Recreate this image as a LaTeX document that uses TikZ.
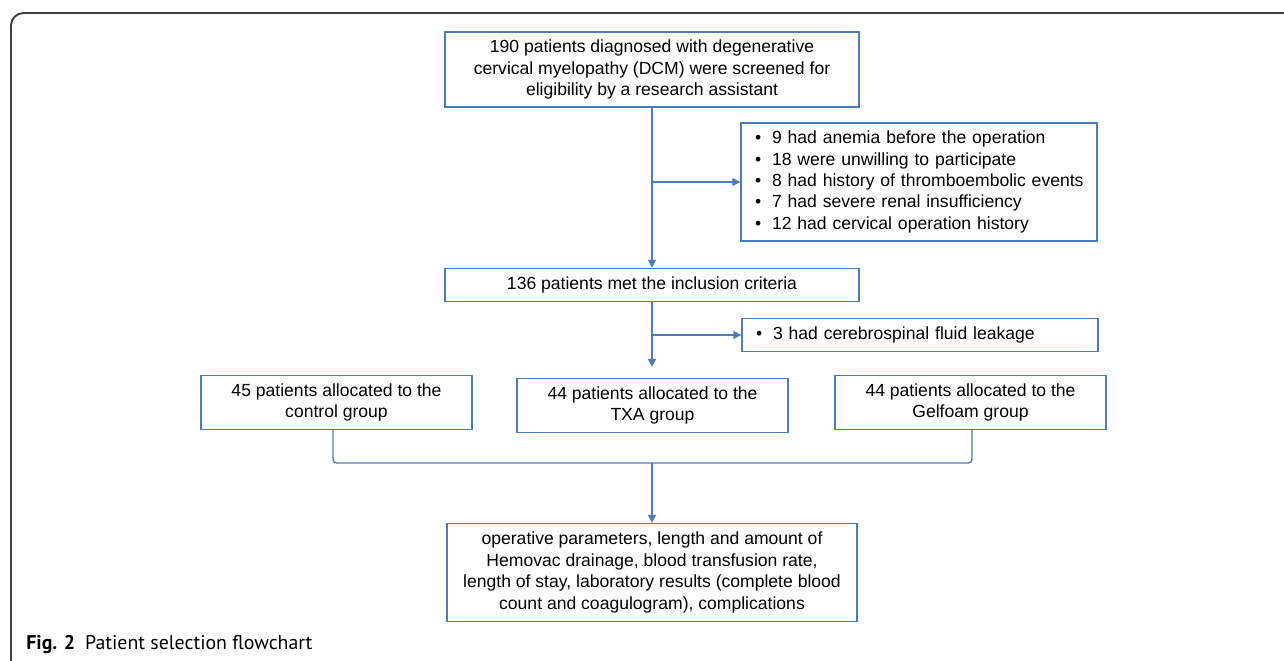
\documentclass[tikz,border=0pt]{standalone}
\usepackage{fontspec}
\setmainfont{Liberation Sans}
\newfontfamily\capfont{PT Sans}
\usepackage{xcolor}
\usepackage{tikz}
\usetikzlibrary{arrows.meta, positioning}
\definecolor{flowblue}{RGB}{74, 126, 187}
\definecolor{framegray}{RGB}{64, 64, 64}

\begin{document}
\begin{tikzpicture}[
  x=0.02cm, y=-0.02cm,
  every node/.style={font=\fontsize{10}{12.2}\selectfont, text=black},
  box/.style={draw=flowblue, line width=0.8pt, align=center, inner sep=0pt},
  listbox/.style={draw=flowblue, line width=0.8pt, align=left, inner xsep=0.1cm, inner ysep=0pt, text width=6.92cm, minimum width=7.12cm},
  arrow/.style={-{Triangle[length=0.16cm, width=0.16cm]}, line width=0.8pt, color=flowblue},
  link/.style={line width=0.8pt, color=flowblue, rounded corners=2pt},
  frame/.style={line width=1.1pt, color=framegray, rounded corners=0.25cm}
]
  \useasboundingbox (0,0) rectangle (1284,661);
  \newcommand{\itm}{\hspace*{0.18cm}\makebox[0.34cm][l]{\textbullet}}

  % Rahmen
  \draw[frame] (11,661) -- (11,13) -- (1284,13);

  % Kaesten
  \node[box, minimum width=8.28cm, minimum height=1.5cm] (screen) at (652,69.5) {190 patients diagnosed with degenerative\\ cervical myelopathy (DCM) were screened for\\ eligibility by a research assistant};
  \node[listbox, minimum height=2.36cm] (excl) at (919,182) {\itm 9 had anemia before the operation\\ \itm 18 were unwilling to participate\\ \itm 8 had history of thromboembolic events\\ \itm 7 had severe renal insufficiency\\ \itm 12 had cervical operation history};
  \node[box, minimum width=8.28cm, minimum height=0.66cm] (incl) at (652,285) {136 patients met the inclusion criteria};
  \node[listbox, minimum height=0.66cm] (leak) at (920,335) {\itm 3 had cerebrospinal fluid leakage};

  \node[box, minimum width=5.42cm, minimum height=1.08cm] (ctrl) at (336.5,402.5) {45 patients allocated to the\\ control group};
  \node[box, minimum width=5.42cm, minimum height=1.08cm] (txa) at (652.5,405.5) {44 patients allocated to the\\ TXA group};
  \node[box, minimum width=5.42cm, minimum height=1.08cm] (gel) at (970.5,402.5) {44 patients allocated to the\\ Gelfoam group};

  \node[box, minimum width=8.2cm, minimum height=1.96cm] (out) at (652,572.5) {operative parameters, length and amount of\\ Hemovac drainage, blood transfusion rate,\\ length of stay, laboratory results (complete blood\\ count and coagulogram), complications};

  % Beschriftung
  \node[anchor=base west, inner sep=0pt, font=\capfont\fontsize{11.3}{13}\selectfont] (cap) at (26,649) {\textbf{Fig. 2}\hspace{0.5em}Patient selection flowchart};

  % Verbindungen
  \coordinate (br1) at (652,182);
  \coordinate (br2) at (652,335);
  \coordinate (alloc) at (652,367);
  \coordinate (join) at (652,463);

  \draw[arrow] (screen) -- (incl);
  \draw[arrow] (br1) -- (excl.west);
  \draw[arrow] (incl.south -| br2) -- (alloc);
  \draw[arrow] (br2) -- (leak.west);
  \draw[link] (ctrl.south -| 333,0) -- (333,463) -- (972,463) -- (gel.south -| 972,0);
  \draw[arrow] (join) -- (out);

\end{tikzpicture}
\end{document}
